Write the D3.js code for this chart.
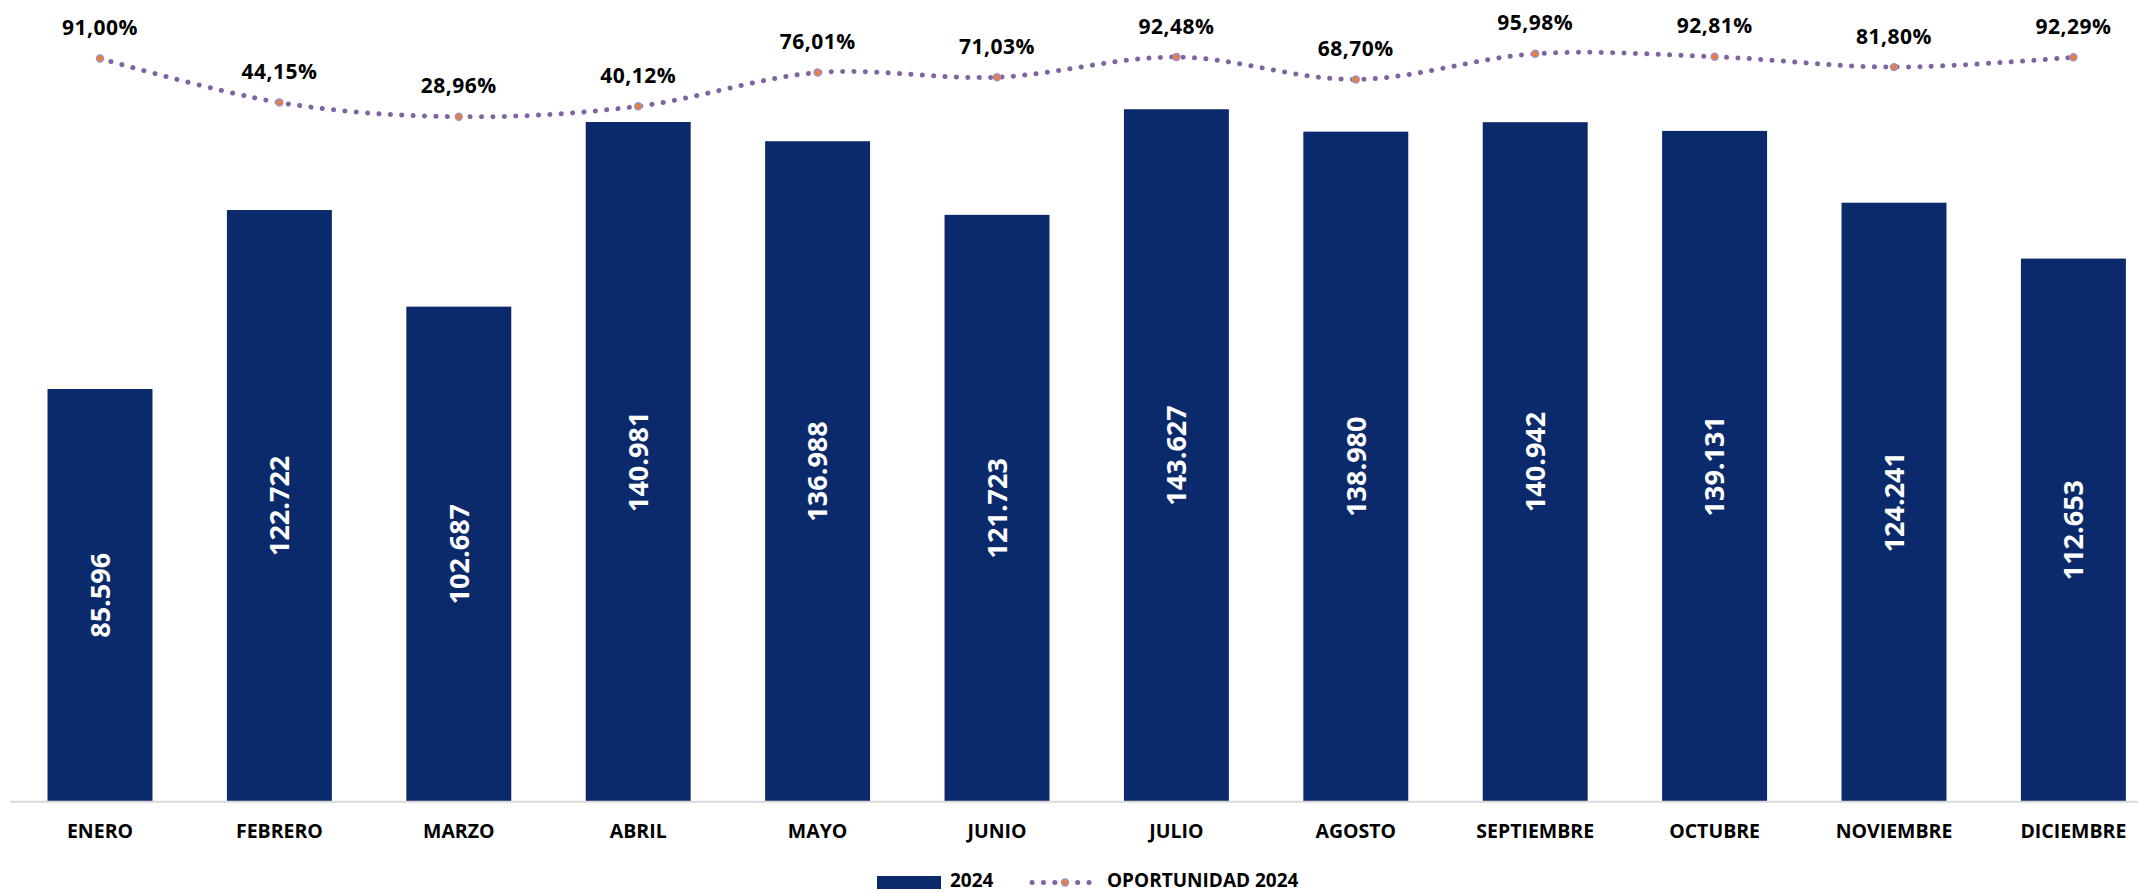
<!DOCTYPE html>
<html><head><meta charset="utf-8">
<script src="https://cdn.jsdelivr.net/npm/d3@7"></script>
<style>
html,body{margin:0;padding:0;background:#fff;}
svg{display:block;}
text{font-family:"Open Sans","Liberation Sans",sans-serif;font-weight:700;}
</style></head>
<body>
<svg id="chart" width="2138" height="892"></svg>
<script>
const months = ["ENERO","FEBRERO","MARZO","ABRIL","MAYO","JUNIO","JULIO","AGOSTO","SEPTIEMBRE","OCTUBRE","NOVIEMBRE","DICIEMBRE"];
const values2024 = [85596,122722,102687,140981,136988,121723,143627,138980,140942,139131,124241,112653];
const oportunidad2024 = [91.00,44.15,28.96,40.12,76.01,71.03,92.48,68.70,95.98,92.81,81.80,92.29];
const seriesNames = ["2024","OPORTUNIDAD 2024"];

const W = 2138, H = 892;
const svg = d3.select("#chart");
const barColor = "#0B2A6B", lineColor = "#8064A2", markerColor = "#ED7D31";

const loc = d3.formatLocale({decimal:",", thousands:".", grouping:[3], currency:["",""]});
const fmtInt = loc.format(",d");
const fmtPct = v => loc.format(".2f")(v) + "%";

const x = d3.scaleBand().domain(months).range([10.3, 2163.1]).paddingInner(0.415).paddingOuter(0.2075);
const y = d3.scaleLinear().domain([0,160000]).range([801.7, 30.3]);
const y2 = d3.scaleLinear().domain([0,100]).range([144, 50]);

// bars
svg.append("g").selectAll("rect").data(values2024).join("rect")
  .attr("x",(d,i)=>x(months[i])).attr("width",x.bandwidth())
  .attr("y",d=>y(d)).attr("height",d=>y(0)-y(d))
  .attr("fill",barColor);

// axis
const xAxis = svg.append("g").attr("transform",`translate(0,${y(0)})`)
  .call(d3.axisBottom(x).tickSize(0).tickPadding(0));
xAxis.select(".domain").attr("d",`M10,0H${W}`).attr("stroke","#d9d9d9").attr("stroke-width",2);
xAxis.selectAll(".tick text").attr("dy",null).attr("y",36.5)
  .attr("font-size","19.5px").attr("fill","#000")
  .attr("font-family","'Open Sans','Liberation Sans',sans-serif").attr("font-weight",700);

// bar labels
svg.append("g").selectAll("text").data(values2024).join("text")
  .attr("transform",(d,i)=>`translate(${x(months[i])+x.bandwidth()/2},${(y(d)+y(0))/2}) rotate(-90)`)
  .attr("text-anchor","middle").attr("dy","0.36em")
  .attr("font-size","27px").attr("fill","#fff")
  .text(d=>fmtInt(d));

// line
const cx = i => x(months[i]) + x.bandwidth()/2;
const line = d3.line().x((d,i)=>cx(i)).y(d=>y2(d)).curve(d3.curveCardinal.tension(0));
svg.append("path").datum(oportunidad2024).attr("d",line)
  .attr("fill","none").attr("stroke",lineColor).attr("stroke-width",5)
  .attr("stroke-linecap","round").attr("stroke-dasharray","0.1 11.3");

svg.append("g").selectAll("circle").data(oportunidad2024).join("circle")
  .attr("cx",(d,i)=>cx(i)).attr("cy",d=>y2(d)).attr("r",3.4)
  .attr("fill",markerColor).attr("stroke","#a48fc4").attr("stroke-width",1.6);

svg.append("g").selectAll("text").data(oportunidad2024).join("text")
  .attr("x",(d,i)=>cx(i)).attr("y",d=>y2(d)-23.5)
  .attr("text-anchor","middle").attr("font-size","21px").attr("letter-spacing","0.5px").attr("fill","#000")
  .text(d=>fmtPct(d));

// legend
const lg = svg.append("g");
lg.append("rect").attr("x",877).attr("y",876).attr("width",64).attr("height",13).attr("fill",barColor);
lg.append("text").attr("x",950).attr("y",886.5).attr("font-size","19px").attr("fill","#000").text(seriesNames[0]);
lg.append("line").attr("x1",1032).attr("x2",1096).attr("y1",882.5).attr("y2",882.5)
  .attr("stroke",lineColor).attr("stroke-width",5).attr("stroke-linecap","round").attr("stroke-dasharray","0.1 11.3");
lg.append("circle").attr("cx",1065).attr("cy",882.5).attr("r",3.4).attr("fill",markerColor).attr("stroke","#a48fc4").attr("stroke-width",1.6);
lg.append("text").attr("x",1107).attr("y",886.5).attr("font-size","19px").attr("fill","#000").text(seriesNames[1]);
</script>
</body></html>
